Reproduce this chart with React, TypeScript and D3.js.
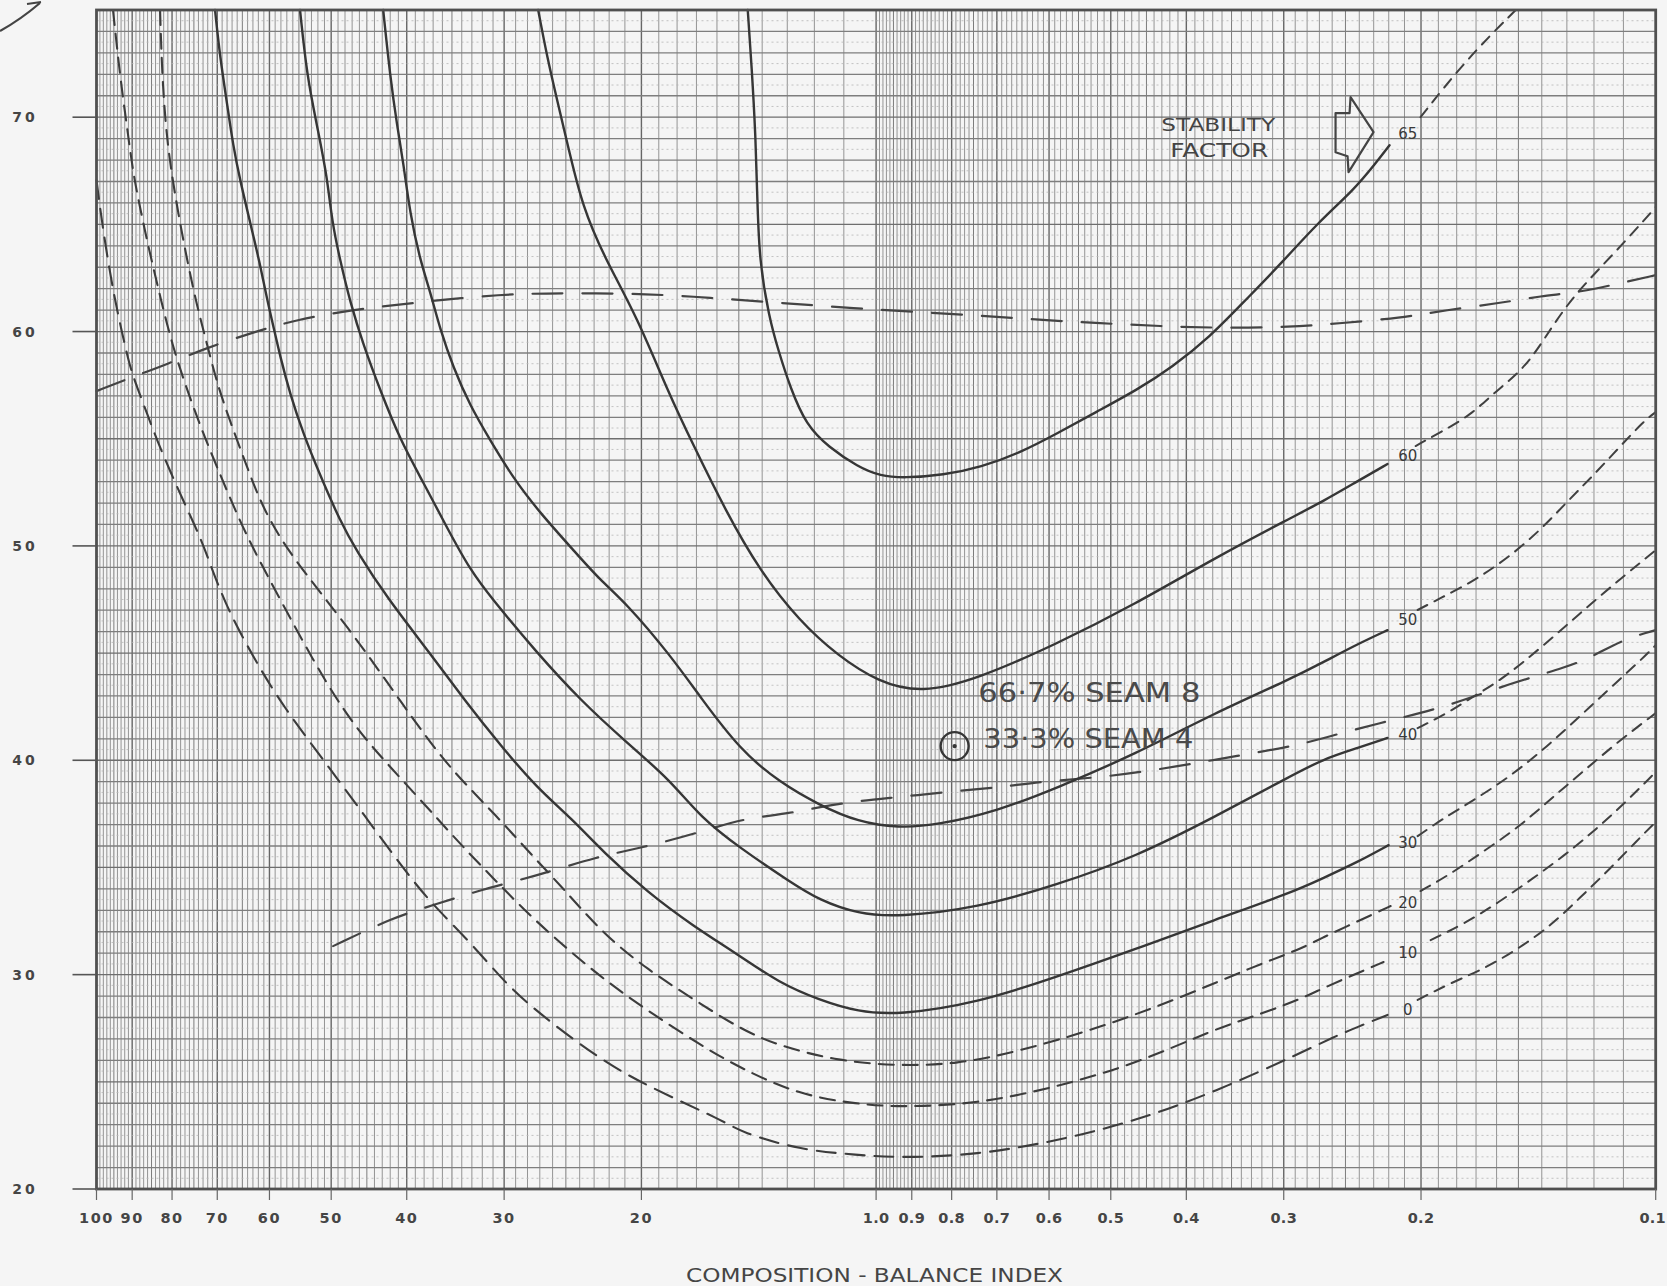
import { useEffect, useRef } from 'react';
import * as d3 from 'd3';

const W = 1667;
const H = 1286;
const margin = { top: 10, right: 11.3, bottom: 97, left: 96.5 };
const FONT = "'DejaVu Sans', sans-serif";

// composition-balance index runs from 10 (left) down to 0.1 (right) on a log scale
const xDomain = [10, 0.1];
const yDomain = [20, 75];
const xTickValues = [10, 9, 8, 7, 6, 5, 4, 3, 2, 1, 0.9, 0.8, 0.7, 0.6, 0.5, 0.4, 0.3, 0.2, 0.1];
const xTickLabels = ['100', '90', '80', '70', '60', '50', '40', '30', '20', '1.0', '0.9', '0.8', '0.7', '0.6', '0.5', '0.4', '0.3', '0.2', '0.1'];
const yTickValues = [20, 30, 40, 50, 60, 70];

// stability factor curves, [index, value]
const sf65 = [[1.461, 75], [1.444, 72.33], [1.428, 69.25], [1.42, 66.13], [1.412, 63.33], [1.372, 60.67], [1.335, 59.13], [1.288, 57.36], [1.229, 55.63], [1.151, 54.61], [1.054, 53.68], [0.9875, 53.26], [0.92, 53.17], [0.82, 53.3], [0.733, 53.68], [0.655, 54.33], [0.585, 55.26], [0.522, 56.25], [0.463, 57.27], [0.417, 58.34], [0.3735, 59.73], [0.336, 61.46], [0.302, 63.19], [0.2715, 65.06], [0.244, 66.6], [0.2287, 67.85], [0.2195, 68.69]];
const sf65Ext = [[0.2003, 70.0], [0.1753, 72.66], [0.1512, 75]];

const sf60 = [[2.713, 75], [2.642, 72.8], [2.565, 70.79], [2.469, 68.23], [2.382, 65.9], [2.239, 63.56], [2.025, 60.67], [1.853, 57.27], [1.711, 54.61], [1.561, 51.67], [1.412, 48.87], [1.254, 46.49], [1.118, 44.86], [0.9934, 43.65], [0.8747, 43.13], [0.7415, 43.79], [0.587, 45.42], [0.4648, 47.29], [0.3681, 49.43], [0.294, 51.3], [0.2668, 52.09], [0.2412, 53.02], [0.2208, 53.82]];
const sf60Ext = [[0.2032, 54.66], [0.1887, 55.31], [0.1727, 56.1], [0.1609, 57.17], [0.1477, 58.25], [0.1392, 59.6], [0.1285, 61.56], [0.1129, 63.66], [0.1, 65.8]];

const sf50 = [[4.288, 75], [4.201, 71.91], [4.115, 69.58], [4.043, 67.95], [3.96, 65.48], [3.845, 63.33], [3.733, 61.88], [3.625, 60.11], [3.488, 58.34], [3.316, 56.52], [3.126, 54.93], [2.921, 53.16], [2.697, 51.53], [2.439, 49.76], [2.259, 48.4], [2.092, 47.33], [1.837, 44.91], [1.681, 42.95], [1.494, 40.48], [1.331, 38.98], [1.183, 37.91], [1.054, 37.12], [0.9363, 36.84], [0.8345, 36.98], [0.6989, 37.63], [0.587, 38.7], [0.4648, 40.29], [0.3681, 42.2], [0.294, 43.79], [0.2668, 44.58], [0.2412, 45.42], [0.2208, 46.07]];
const sf50Ext = [[0.202, 47.01], [0.1887, 47.57], [0.1712, 48.36], [0.1548, 49.43], [0.1405, 50.74], [0.1297, 52.09], [0.1212, 53.16], [0.1119, 54.51], [0.1036, 55.82], [0.1, 56.24]];

const sf40 = [[5.482, 75], [5.37, 71.91], [5.212, 69.58], [5.061, 67.25], [4.987, 65.1], [4.87, 63.33], [4.728, 61.37], [4.55, 59.41], [4.327, 57.27], [4.077, 54.93], [3.811, 52.98], [3.549, 50.83], [3.316, 48.87], [3.108, 47.52], [2.729, 45.05], [2.389, 42.76], [2.092, 40.85], [1.837, 39.08], [1.681, 37.35], [1.494, 35.9], [1.288, 34.32], [1.183, 33.48], [1.054, 32.83], [0.9363, 32.69], [0.7415, 33.11], [0.587, 34.18], [0.4648, 35.49], [0.3681, 37.35], [0.294, 39.26], [0.2668, 40.06], [0.2412, 40.57], [0.2208, 41.04]];
const sf40Ext = [[0.202, 41.5], [0.1849, 42.2], [0.1712, 42.99], [0.1595, 43.65], [0.1477, 44.58], [0.1336, 45.93], [0.1212, 47.29], [0.1099, 48.59], [0.1, 49.8]];

const sf30 = [[7.046, 75], [6.943, 72.8], [6.801, 70.65], [6.681, 68.69], [6.544, 67.06], [6.353, 65.1], [6.169, 63.14], [6.042, 61.51], [5.936, 60.3], [5.814, 58.85], [5.645, 57.08], [5.433, 55.26], [5.167, 53.3], [4.87, 51.16], [4.645, 49.8], [4.238, 47.57], [3.744, 45.05], [3.365, 42.76], [3.026, 40.66], [2.729, 38.75], [2.454, 37.26], [2.239, 35.72], [1.96, 33.81], [1.716, 32.27], [1.507, 30.96], [1.331, 29.61], [1.183, 28.82], [1.054, 28.26], [0.9363, 28.12], [0.7415, 28.68], [0.587, 29.89], [0.4648, 31.19], [0.3681, 32.55], [0.294, 33.81], [0.2668, 34.51], [0.2412, 35.25], [0.2201, 36.04]];
const sf30Ext = [[0.202, 36.46], [0.1887, 37.21], [0.1712, 38.14], [0.1548, 39.17], [0.1405, 40.38], [0.1274, 41.78], [0.1152, 43.27], [0.1045, 44.67], [0.1, 45.37]];

const sf20 = [[8.288, 75], [8.239, 71.91], [8.118, 68.69], [7.882, 65.8], [7.653, 63.33], [7.43, 61.18], [7.214, 59.41], [7.006, 57.59], [6.742, 55.82], [6.41, 53.68], [6.113, 51.72], [5.645, 49.57], [4.742, 46.17], [4.043, 42.57], [3.549, 39.73], [3.108, 37.63], [2.729, 35.35], [2.542, 34.18], [2.239, 31.89], [1.96, 30.21], [1.716, 28.86], [1.494, 27.46], [1.331, 26.67], [1.118, 25.97], [0.9363, 25.74], [0.7865, 25.83], [0.6607, 26.39], [0.5232, 27.46], [0.413, 28.82], [0.327, 30.4], [0.2855, 31.19], [0.2668, 31.75], [0.2484, 32.27], [0.2301, 32.83], [0.2188, 33.2]];
const sf20Ext = [[0.2003, 33.9], [0.1833, 34.69], [0.1662, 35.76], [0.1503, 36.84], [0.1364, 38.19], [0.1237, 39.5], [0.1119, 40.85], [0.1, 42.2]];

const sf10 = [[9.524, 75], [9.329, 71.91], [9.14, 69.58], [8.979, 67.43], [8.795, 65.8], [8.589, 64.03], [8.364, 62.26], [8.118, 60.3], [7.882, 58.67], [7.586, 56.89], [7.299, 55.26], [7.006, 53.68], [6.681, 51.9], [6.353, 50.13], [5.78, 47.33], [5.274, 44.67], [4.87, 42.57], [4.497, 40.85], [3.89, 38.38], [3.416, 36.09], [3.108, 34.55], [2.836, 33.06], [2.55, 31.52], [2.239, 29.79], [1.96, 28.3], [1.681, 26.72], [1.494, 25.64], [1.254, 24.38], [1.054, 23.96], [0.9363, 23.82], [0.7415, 23.96], [0.587, 24.76], [0.4648, 25.83], [0.3681, 27.46], [0.3212, 28.16], [0.2855, 28.86], [0.2668, 29.38], [0.2412, 30.07], [0.2234, 30.59]];
const sf10Ext = [[0.1944, 31.61], [0.1763, 32.36], [0.1595, 33.34], [0.1447, 34.41], [0.1312, 35.53], [0.1187, 36.84], [0.1086, 38.14], [0.1, 39.45]];

const sf0 = [[10, 67.06], [9.81, 64.73], [9.524, 61.88], [9.247, 59.74], [9.057, 58.34], [8.872, 57.41], [8.615, 56.19], [8.364, 54.93], [8.047, 53.49], [7.653, 51.72], [7.299, 50.13], [6.862, 47.33], [6.26, 44.67], [5.78, 42.57], [5.002, 39.54], [4.497, 37.26], [4.043, 34.97], [3.744, 33.43], [3.316, 31.52], [2.991, 29.61], [2.729, 28.3], [2.293, 26.2], [1.983, 24.85], [1.565, 23.17], [1.494, 22.66], [1.254, 21.82], [1.054, 21.59], [0.9363, 21.45], [0.7415, 21.59], [0.587, 22.24], [0.4648, 23.17], [0.3681, 24.52], [0.2855, 26.34], [0.2589, 27.09], [0.2412, 27.56], [0.2208, 28.12]];
const sf0Ext = [[0.202, 28.82], [0.1833, 29.61], [0.1662, 30.26], [0.1503, 31.19], [0.1364, 32.27], [0.1248, 33.62], [0.1142, 34.97], [0.1055, 36.28], [0.1, 37.12]];

// long-dashed boundary lines
const boundaryUpper = [[10, 57.22], [9.01, 57.87], [8.09, 58.5], [7.26, 59.21], [6.23, 60.02], [5.535, 60.55], [4.73, 61.0], [3.88, 61.36], [3.035, 61.75], [2.47, 61.8], [1.96, 61.76], [1.637, 61.58], [1.343, 61.35], [0.987, 61.0], [0.7525, 60.77], [0.615, 60.54], [0.516, 60.39], [0.432, 60.25], [0.3615, 60.16], [0.294, 60.2], [0.2537, 60.39], [0.2124, 60.63], [0.186, 61.0], [0.158, 61.33], [0.1405, 61.66], [0.1248, 61.84], [0.1109, 62.26], [0.1, 62.63]];
const boundaryLower = [[4.972, 31.33], [4.151, 32.69], [3.689, 33.25], [3.192, 33.99], [2.761, 34.55], [2.265, 35.53], [2.006, 35.9], [1.696, 36.6], [1.476, 37.3], [1.3, 37.49], [1.118, 38.0], [0.9616, 38.24], [0.7913, 38.56], [0.6906, 38.75], [0.6064, 39.03], [0.5049, 39.22], [0.407, 39.73], [0.3459, 40.2], [0.2855, 40.71], [0.2537, 41.27], [0.2124, 41.97], [0.1833, 42.57], [0.1548, 43.55], [0.1297, 44.35], [0.1202, 44.86], [0.1099, 45.65], [0.1, 46.07]];

const solidCurves = [sf65, sf60, sf50, sf40, sf30];
const dashedCurves = [sf20, sf10, sf0];
const extensions = [sf65Ext, sf60Ext, sf50Ext, sf40Ext, sf30Ext, sf20Ext, sf10Ext, sf0Ext];

const sfLabels = ['65', '60', '50', '40', '30', '20', '10', '0'];
const sfLabelY = [69.25, 54.23, 46.54, 41.18, 36.14, 33.34, 31.05, 28.35];
const sfLabelX = 0.208;

const seamPoint = [0.793, 40.66];
const seamLines = ['66·7% SEAM 8', '33·3% SEAM 4'];
const seamLinePos = [[0.7393, 42.71], [0.7285, 40.57]];

export default function App() {
    const svgRef = useRef<SVGSVGElement>(null);

    useEffect(() => {
        if (!svgRef.current) return;
        const svg = d3.select(svgRef.current);
        svg.selectAll('*').remove();

        const x = d3.scaleLog().domain(xDomain).range([margin.left, W - margin.right]);
        const y = d3.scaleLinear().domain(yDomain).range([H - margin.bottom, margin.top]);
        const x0 = x(10), x1 = x(0.1), yb = y(20), yt = y(75);

        svg.append('rect').attr('width', W).attr('height', H).attr('fill', '#f5f5f5');

        // graph paper
        const grid = svg.append('g');
        const vLines: { v: number; major: number }[] = [];
        [1, 0.1].forEach(k => {
            d3.range(10, 100).forEach(i => {
                vLines.push({ v: (i / 10) * k, major: i % 10 === 0 ? 2 : i % 5 === 0 ? 1 : 0 });
            });
        });
        grid.selectAll('.vgrid')
            .data(vLines)
            .enter()
            .append('line')
            .attr('x1', d => x(d.v))
            .attr('x2', d => x(d.v))
            .attr('y1', yt)
            .attr('y2', yb)
            .attr('stroke', d => (d.major === 2 ? '#666' : d.major === 1 ? '#7c7c7c' : '#949494'))
            .attr('stroke-width', d => (d.major === 2 ? 1.4 : 1));

        const hLines = d3.range(20, 75.01, 0.5);
        grid.selectAll('.hgrid')
            .data(hLines)
            .enter()
            .append('line')
            .attr('x1', x0)
            .attr('x2', x1)
            .attr('y1', d => y(d))
            .attr('y2', d => y(d))
            .attr('stroke', d => (d % 1 === 0 ? (d % 5 === 0 ? '#6e6e6e' : '#7e7e7e') : '#b5b5b5'))
            .attr('stroke-width', d => (d % 1 === 0 ? 1.3 : 0.8))
            .attr('stroke-dasharray', d => (d % 1 === 0 ? null : '2 3'));

        const line = d3.line<number[]>()
            .x(d => x(d[0]))
            .y(d => y(d[1]))
            .curve(d3.curveBasis);

        const curves = svg.append('g').attr('fill', 'none').attr('stroke-linecap', 'round');

        // long-dashed boundaries
        [boundaryUpper, boundaryLower].forEach(pts => {
            curves.append('path')
                .attr('d', line(pts))
                .attr('stroke', '#444')
                .attr('stroke-width', 2.2)
                .attr('stroke-dasharray', '30 20');
        });

        solidCurves.forEach(pts => {
            curves.append('path')
                .attr('d', line(pts))
                .attr('stroke', '#363636')
                .attr('stroke-width', 2.4);
        });

        dashedCurves.forEach((pts, i) => {
            curves.append('path')
                .attr('d', line(pts))
                .attr('stroke', '#3c3c3c')
                .attr('stroke-width', 2.1)
                .attr('stroke-dasharray', i === 2 ? '19 10' : '15 9');
        });

        extensions.forEach(pts => {
            curves.append('path')
                .attr('d', line(pts))
                .attr('stroke', '#404040')
                .attr('stroke-width', 2)
                .attr('stroke-dasharray', '11 8');
        });

        // frame
        svg.append('rect')
            .attr('x', x0).attr('y', yt)
            .attr('width', x1 - x0).attr('height', yb - yt)
            .attr('fill', 'none')
            .attr('stroke', '#505050')
            .attr('stroke-width', 2.8);

        // y ticks and labels
        svg.selectAll('.ytick')
            .data(yTickValues)
            .enter()
            .append('line')
            .attr('x1', x0 - 24).attr('x2', x0)
            .attr('y1', d => y(d)).attr('y2', d => y(d))
            .attr('stroke', '#555').attr('stroke-width', 1.6);
        svg.selectAll('.ylabel')
            .data(yTickValues)
            .enter()
            .append('text')
            .attr('x', 25)
            .attr('y', d => y(d))
            .attr('dy', '0.36em')
            .attr('text-anchor', 'middle')
            .attr('font-family', FONT)
            .attr('font-weight', 700)
            .attr('font-size', '14px')
            .attr('letter-spacing', '3px')
            .attr('fill', '#454545')
            .text(d => d);

        // x ticks and labels
        svg.selectAll('.xtick')
            .data(xTickValues)
            .enter()
            .append('line')
            .attr('x1', d => x(d)).attr('x2', d => x(d))
            .attr('y1', yb).attr('y2', yb + 11)
            .attr('stroke', '#666').attr('stroke-width', 1.2);
        const lastTick = xTickValues.length - 1;
        svg.selectAll('.xlabel')
            .data(xTickValues)
            .enter()
            .append('text')
            .attr('x', (d, i) => (i === lastTick ? W - 1 : x(d)))
            .attr('y', yb + 34)
            .attr('text-anchor', (_, i) => (i === lastTick ? 'end' : 'middle'))
            .attr('font-family', FONT)
            .attr('font-weight', 700)
            .attr('font-size', '14.5px')
            .attr('letter-spacing', (d) => (d < 1.5 ? '0.3px' : '1.5px'))
            .attr('fill', '#454545')
            .text((_, i) => xTickLabels[i]);

        svg.append('text')
            .attr('x', 686)
            .attr('y', 1282)
            .attr('font-family', FONT)
            .attr('font-size', '19px')
            .attr('textLength', 377)
            .attr('lengthAdjust', 'spacingAndGlyphs')
            .attr('fill', '#454545')
            .text('COMPOSITION - BALANCE INDEX');

        // stability factor labels
        svg.selectAll('.sflabel')
            .data(sfLabels)
            .enter()
            .append('text')
            .attr('x', x(sfLabelX))
            .attr('y', (_, i) => y(sfLabelY[i]))
            .attr('dy', '0.36em')
            .attr('text-anchor', 'middle')
            .attr('font-family', FONT)
            .attr('font-size', '15px')
            .attr('fill', '#3a3a3a')
            .text(d => d);

        // stability factor title and arrow
        const title = svg.append('g')
            .attr('font-family', FONT)
            .attr('fill', '#444');
        title.append('text').attr('x', x(0.364) - 57).attr('y', y(69.35))
            .attr('font-size', '18px')
            .attr('textLength', 114).attr('lengthAdjust', 'spacingAndGlyphs').text('STABILITY');
        title.append('text').attr('x', x(0.363) - 49).attr('y', y(68.13))
            .attr('font-size', '19px')
            .attr('textLength', 98).attr('lengthAdjust', 'spacingAndGlyphs').text('FACTOR');

        const tipX = x(0.2301), tipY = y(69.3);
        const arrow = [[0, 0], [-23, -35], [-24, -19], [-38, -19], [-38, 20], [-26, 24], [-25, 40]];
        svg.append('path')
            .attr('d', 'M' + arrow.map(p => `${tipX + p[0]},${tipY + p[1]}`).join('L') + 'Z')
            .attr('fill', 'none')
            .attr('stroke', '#444')
            .attr('stroke-width', 2.2)
            .attr('stroke-linejoin', 'round');

        // seam blend point
        svg.append('circle')
            .attr('cx', x(seamPoint[0])).attr('cy', y(seamPoint[1]))
            .attr('r', 14)
            .attr('fill', 'none').attr('stroke', '#363636').attr('stroke-width', 2.4);
        svg.append('circle')
            .attr('cx', x(seamPoint[0])).attr('cy', y(seamPoint[1]))
            .attr('r', 2.2).attr('fill', '#363636');

        svg.selectAll('.seam')
            .data(seamLines)
            .enter()
            .append('text')
            .attr('x', (_, i) => x(seamLinePos[i][0]))
            .attr('y', (_, i) => y(seamLinePos[i][1]))
            .attr('font-family', FONT)
            .attr('font-size', '26px')
            .attr('fill', '#4a4a4a')
            .attr('textLength', (_, i) => (i === 0 ? 222 : 210))
            .attr('lengthAdjust', 'spacingAndGlyphs')
            .text(d => d);

        // pen stroke in the corner
        svg.append('path')
            .attr('d', 'M0,31 Q20,20 40,3 M27,4 L41,2')
            .attr('fill', 'none')
            .attr('stroke', '#444')
            .attr('stroke-width', 2.2);
    }, []);

    return (
        <svg
            ref={svgRef}
            width={W}
            height={H}
            style={{ position: 'absolute', left: 0, top: 0, display: 'block' }}
        />
    );
}
